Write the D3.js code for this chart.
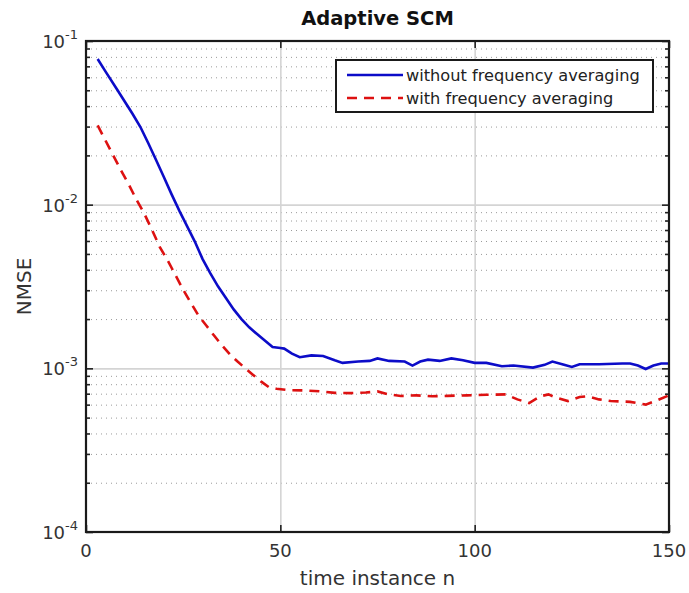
<!DOCTYPE html>
<html>
<head>
<meta charset="utf-8">
<script src="https://cdn.jsdelivr.net/npm/d3@7"></script>
<style>
  body { margin: 0; background: #fff; }
  text { font-family: "DejaVu Sans", sans-serif; }
</style>
</head>
<body>
<div id="chart"></div>
<script>
// data
const nBlue = [3, 5, 8, 10, 12, 14, 16, 18, 20, 22, 24, 26, 28, 30, 32, 34, 36, 38, 40, 42, 44, 46, 48, 50, 51, 53, 55, 58, 61, 64, 66, 70, 73, 75, 78, 82, 84, 86, 88, 91, 94, 97, 100, 103, 107, 110, 115, 118, 120, 123, 125, 127, 132, 138, 140, 142, 144, 146, 148, 150];
const nmseBlue = [0.0776, 0.0652, 0.0505, 0.0425, 0.0358, 0.0298, 0.0238, 0.0188, 0.0148, 0.0116, 0.0092, 0.0074, 0.00595, 0.00465, 0.0038, 0.00316, 0.00269, 0.00229, 0.002, 0.00178, 0.00162, 0.00148, 0.00135, 0.00133, 0.00132, 0.00123, 0.00117, 0.0012, 0.00119, 0.00112, 0.00108, 0.0011, 0.00111, 0.00115, 0.00111, 0.0011, 0.00104, 0.0011, 0.00113, 0.00111, 0.00115, 0.00112, 0.00108, 0.00108, 0.00103, 0.00104, 0.00101, 0.00105, 0.0011, 0.00105, 0.00102, 0.00106, 0.00106, 0.00107, 0.00107, 0.00104, 0.00099, 0.00104, 0.00107, 0.00107];

const nRed = [3, 5, 7, 9, 11, 13, 15, 17, 19, 21, 23, 25, 27, 29, 31, 33, 35, 37, 39, 41, 43, 45, 47, 49, 52, 56, 60, 64, 68, 72, 75, 78, 81, 85, 89, 93, 98, 103, 108, 111, 114, 117, 119, 121, 124, 127, 129, 132, 135, 140, 144, 147, 150];
const nmseRed = [0.0305, 0.0247, 0.02, 0.0162, 0.0133, 0.0107, 0.00881, 0.007, 0.0055, 0.00457, 0.00372, 0.00302, 0.00251, 0.00209, 0.00182, 0.00158, 0.00138, 0.00122, 0.0011, 0.001, 0.000912, 0.000832, 0.000769, 0.00075, 0.000736, 0.000733, 0.000724, 0.000708, 0.000706, 0.000711, 0.000723, 0.000692, 0.000678, 0.000684, 0.000675, 0.000679, 0.000684, 0.000689, 0.000693, 0.000646, 0.000614, 0.000676, 0.000693, 0.000661, 0.000631, 0.000668, 0.000675, 0.000646, 0.000631, 0.000624, 0.0006, 0.000638, 0.000684];

const xTicks = [0, 50, 100, 150];
const yTicks = [1e-4, 1e-3, 1e-2, 1e-1];
const yTickExp = ["-4", "-3", "-2", "-1"];
const legendLabels = ["without frequency averaging", "with frequency averaging"];

const W = 689, H = 593;
const margin = {top: 41, right: 20, bottom: 61, left: 86};
const width = W - margin.left - margin.right;
const height = H - margin.top - margin.bottom;

const svg = d3.select("#chart").append("svg")
    .attr("width", W)
    .attr("height", H);

const g = svg.append("g")
    .attr("transform", "translate(" + margin.left + "," + margin.top + ")");

const x = d3.scaleLinear().domain([0, 150]).range([0, width]);
const y = d3.scaleLog().domain([1e-4, 1e-1]).range([height, 0]);

// minor log ticks 2..9 in each decade
const yMinor = [];
for (let k = -4; k < -1; k++) {
    for (let m = 2; m <= 9; m++) yMinor.push(m * Math.pow(10, k));
}

// minor grid (dotted)
g.append("g")
    .call(d3.axisLeft(y).tickValues(yMinor).tickSize(-width).tickFormat(""))
    .call(s => s.select(".domain").remove())
    .selectAll(".tick line")
    .attr("stroke", "#9a9a9a")
    .attr("stroke-width", 1)
    .attr("stroke-dasharray", "1,4");

// major grid
g.append("g")
    .call(d3.axisLeft(y).tickValues(yTicks.slice(1, 3)).tickSize(-width).tickFormat(""))
    .call(s => s.select(".domain").remove())
    .selectAll(".tick line")
    .attr("stroke", "#d4d4d4")
    .attr("stroke-width", 1.6);
g.append("g")
    .attr("transform", "translate(0," + height + ")")
    .call(d3.axisBottom(x).tickValues([50, 100]).tickSize(-height).tickFormat(""))
    .call(s => s.select(".domain").remove())
    .selectAll(".tick line")
    .attr("stroke", "#d4d4d4")
    .attr("stroke-width", 1.6);

// lines
const line = d3.line()
    .x(d => x(d[0]))
    .y(d => y(d[1]));

g.append("path")
    .datum(d3.zip(nRed, nmseRed))
    .attr("fill", "none")
    .attr("stroke", "#dd1111")
    .attr("stroke-width", 2.6)
    .attr("stroke-dasharray", "10,7")
    .attr("d", line);

g.append("path")
    .datum(d3.zip(nBlue, nmseBlue))
    .attr("fill", "none")
    .attr("stroke", "#0c0cc8")
    .attr("stroke-width", 2.6)
    .attr("d", line);

// ticks, inward on all four sides
function styleAxis(sel) {
    sel.select(".domain").remove();
    sel.selectAll(".tick line").attr("stroke", "#222").attr("stroke-width", 1.6);
}
g.append("g").call(d3.axisLeft(y).tickValues(yTicks).tickSize(-7).tickFormat("")).call(styleAxis);
g.append("g").call(d3.axisLeft(y).tickValues(yMinor).tickSize(-4).tickFormat("")).call(styleAxis);
g.append("g").attr("transform", "translate(" + width + ",0)")
    .call(d3.axisRight(y).tickValues(yTicks).tickSize(-7).tickFormat("")).call(styleAxis);
g.append("g").attr("transform", "translate(" + width + ",0)")
    .call(d3.axisRight(y).tickValues(yMinor).tickSize(-4).tickFormat("")).call(styleAxis);
g.append("g").attr("transform", "translate(0," + height + ")")
    .call(d3.axisBottom(x).tickValues(xTicks).tickSize(-7).tickFormat("")).call(styleAxis);
g.append("g")
    .call(d3.axisTop(x).tickValues(xTicks).tickSize(-7).tickFormat("")).call(styleAxis);

// box
g.append("rect")
    .attr("width", width)
    .attr("height", height)
    .attr("fill", "none")
    .attr("stroke", "#1a1a1a")
    .attr("stroke-width", 2.2);

// x tick labels
g.selectAll(".xlab")
    .data(xTicks)
    .enter().append("text")
    .attr("x", d => x(d))
    .attr("y", height + 25)
    .attr("text-anchor", "middle")
    .attr("font-size", 18)
    .attr("fill", "#333")
    .text(d => d);

// y tick labels 10^k
const ylab = g.selectAll(".ylab")
    .data(yTicks)
    .enter().append("text")
    .attr("x", -8)
    .attr("y", d => y(d) + 7)
    .attr("text-anchor", "end")
    .attr("font-size", 18)
    .attr("fill", "#333");
ylab.append("tspan").text("10");
ylab.append("tspan")
    .attr("dy", -9)
    .attr("font-size", 13)
    .text((d, i) => yTickExp[i]);

// axis titles
svg.append("text")
    .attr("x", margin.left + width / 2)
    .attr("y", 585)
    .attr("text-anchor", "middle")
    .attr("font-size", 20)
    .attr("fill", "#333")
    .text("time instance n");

svg.append("text")
    .attr("transform", "translate(31," + (margin.top + height / 2) + ") rotate(-90)")
    .attr("text-anchor", "middle")
    .attr("font-size", 20)
    .attr("fill", "#333")
    .text("NMSE");

svg.append("text")
    .attr("x", margin.left + width / 2)
    .attr("y", 25)
    .attr("text-anchor", "middle")
    .attr("font-size", 19.5)
    .attr("font-weight", "bold")
    .attr("fill", "#111")
    .text("Adaptive SCM");

// legend
const leg = svg.append("g").attr("transform", "translate(336,60)");
leg.append("rect")
    .attr("width", 317)
    .attr("height", 52)
    .attr("fill", "#fff")
    .attr("stroke", "#1a1a1a")
    .attr("stroke-width", 2);
const legColors = ["#0c0cc8", "#dd1111"];
const legDash = [null, "10,7"];
legendLabels.forEach((lab, i) => {
    const ly = 15 + i * 23;
    leg.append("line")
        .attr("x1", 11).attr("x2", 67)
        .attr("y1", ly).attr("y2", ly)
        .attr("stroke", legColors[i])
        .attr("stroke-width", 2.6)
        .attr("stroke-dasharray", legDash[i]);
    leg.append("text")
        .attr("x", 70)
        .attr("y", ly + 5.5)
        .attr("font-size", 16.2)
        .attr("fill", "#222")
        .text(lab);
});
</script>
</body>
</html>
